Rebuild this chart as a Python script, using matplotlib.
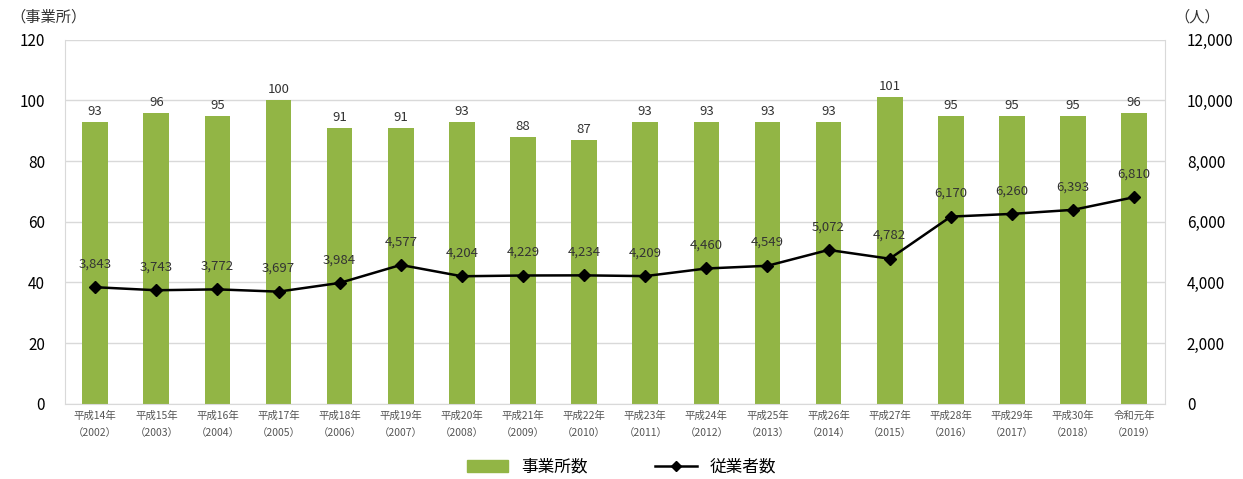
import matplotlib.pyplot as plt
from matplotlib.lines import Line2D
from matplotlib.patches import Patch

plt.rcParams['font.family'] = ['Noto Sans CJK JP', 'DejaVu Sans']

# data
years = ["平成14年\n（2002）", "平成15年\n（2003）", "平成16年\n（2004）", "平成17年\n（2005）",
         "平成18年\n（2006）", "平成19年\n（2007）", "平成20年\n（2008）", "平成21年\n（2009）",
         "平成22年\n（2010）", "平成23年\n（2011）", "平成24年\n（2012）", "平成25年\n（2013）",
         "平成26年\n（2014）", "平成27年\n（2015）", "平成28年\n（2016）", "平成29年\n（2017）",
         "平成30年\n（2018）", "令和元年\n（2019）"]
offices = [93, 96, 95, 100, 91, 91, 93, 88, 87, 93, 93, 93, 93, 101, 95, 95, 95, 96]
workers = [3843, 3743, 3772, 3697, 3984, 4577, 4204, 4229, 4234, 4209, 4460, 4549,
           5072, 4782, 6170, 6260, 6393, 6810]

bar_color = "#92b545"
x = range(len(years))

fig = plt.figure(figsize=(12.43, 4.79), dpi=100)
ax = fig.add_axes([0.052, 0.157, 0.885, 0.76])
ax.set_axisbelow(True)
ax.bar(x, offices, width=0.42, color=bar_color, zorder=2)
for i, v in zip(x, offices):
    ax.text(i, v + 1.3, str(v), ha="center", va="bottom", fontsize=9.5, color="#333333")

ax.set_ylim(0, 120)
ax.set_yticks(range(0, 121, 20))
ax.set_xlim(-0.5, len(years) - 0.5)
ax.set_xticks(list(x))
ax.set_xticklabels(years, fontsize=7.5, color="#555555", linespacing=1.9)
ax.grid(axis="y", color="#d9d9d9", linewidth=1)
ax.tick_params(axis="y", labelsize=11, length=0, pad=14)
ax.tick_params(axis="x", length=0, pad=5)
for s in ["top", "right"]:
    ax.spines[s].set_visible(False)
ax.spines["left"].set_color("#d9d9d9")
ax.spines["bottom"].set_color("#d9d9d9")

ax2 = ax.twinx()
ax2.plot(list(x), workers, color="black", marker="D", markersize=6, linewidth=1.8, zorder=3)
for i, v in zip(x, workers):
    ax2.text(i, v + 550, f"{v:,}", ha="center", va="bottom", fontsize=9.5, color="#333333")
ax2.set_ylim(0, 12000)
ax2.set_yticks(range(0, 12001, 2000))
ax2.set_yticklabels([f"{t:,}" for t in range(0, 12001, 2000)])
ax2.tick_params(axis="y", labelsize=11, length=0, pad=16)
for s in ["top", "left", "bottom"]:
    ax2.spines[s].set_visible(False)
ax2.spines["right"].set_color("#d9d9d9")

fig.text(0.008, 0.965, "（事業所）", fontsize=11, color="#333333", va="center")
fig.text(0.945, 0.965, "（人）", fontsize=11, color="#333333", va="center")

handles = [Patch(color=bar_color, label="事業所数"),
           Line2D([0], [0], color="black", marker="D", markersize=5, linewidth=1.8, label="従業者数")]
fig.legend(handles=handles, loc="center", bbox_to_anchor=(0.5, 0.025), ncol=2, frameon=False,
           fontsize=12, handlelength=2.5, columnspacing=4)

plt.savefig("out.png")
